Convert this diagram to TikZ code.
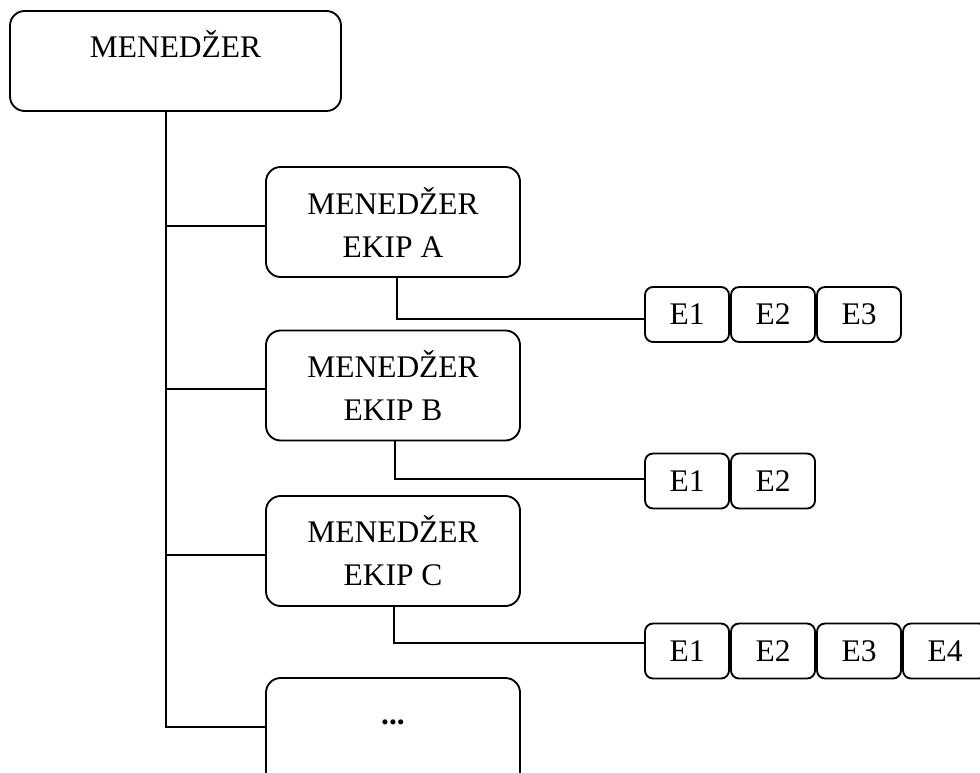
\documentclass[tikz,border=0pt]{standalone}
\usepackage{fontspec}
\setmainfont{Liberation Serif}
\begin{document}
\begin{tikzpicture}[x=0.75pt, y=-0.75pt, line width=1.4pt,
  txt/.style={font=\fontsize{23.6pt}{32.25pt}\selectfont},
  mgr/.style={txt, draw, rounded corners=11pt, inner sep=0pt, align=center,
    minimum width=190.5pt, minimum height=82.5pt},
  emp/.style={txt, draw, rounded corners=6pt, inner sep=0pt,
    minimum width=63pt, minimum height=41.25pt}]
\useasboundingbox (0,0) rectangle (980,773);

% top manager
\node[txt, draw, rounded corners=11pt, inner sep=0pt,
  minimum width=248.25pt, minimum height=75pt,
  text height=35.25pt, text depth=39.75pt] (top) at (175.5,61) {MENEDŽER};

% team managers
\node[mgr] (A) at (393,222) {MENEDŽER\\EKIP A};
\node[mgr] (B) at (393,385.5) {MENEDŽER\\EKIP B};
\node[mgr] (C) at (393,551) {MENEDŽER\\EKIP C};
\node[mgr, text height=34.9pt, text depth=47.6pt] (D) at (393,733) {\textbf{...}};

% team members
\node[emp] (a1) at (687,314.5) {E1};
\node[emp] (a2) at (773,314.5) {E2};
\node[emp] (a3) at (859,314.5) {E3};

\node[emp] (b1) at (687,481) {E1};
\node[emp] (b2) at (773,481) {E2};

\node[emp] (c1) at (687,651) {E1};
\node[emp] (c2) at (773,651) {E2};
\node[emp] (c3) at (859,651) {E3};
\node[emp] (c4) at (945,651) {E4};

% trunk and branches
\coordinate (trunk) at (166,0);
\coordinate (bA) at ([yshift=-3pt]A.west);
\coordinate (bB) at ([yshift=-2.6pt]B.west);
\coordinate (bC) at ([yshift=-3pt]C.west);
\coordinate (bD) at ([yshift=4.5pt]D.west);
\draw (top.south -| trunk) |- (bD);
\draw (bA) -- (bA -| trunk);
\draw (bB) -- (bB -| trunk);
\draw (bC) -- (bC -| trunk);

% links to team members
\draw ([xshift=3pt]A.south) |- ([yshift=-3.4pt]a1.west);
\draw ([xshift=1.5pt]B.south) |- ([yshift=1.5pt]b1.west);
\draw ([xshift=0.75pt]C.south) |- ([yshift=6pt]c1.west);
\end{tikzpicture}
\end{document}
